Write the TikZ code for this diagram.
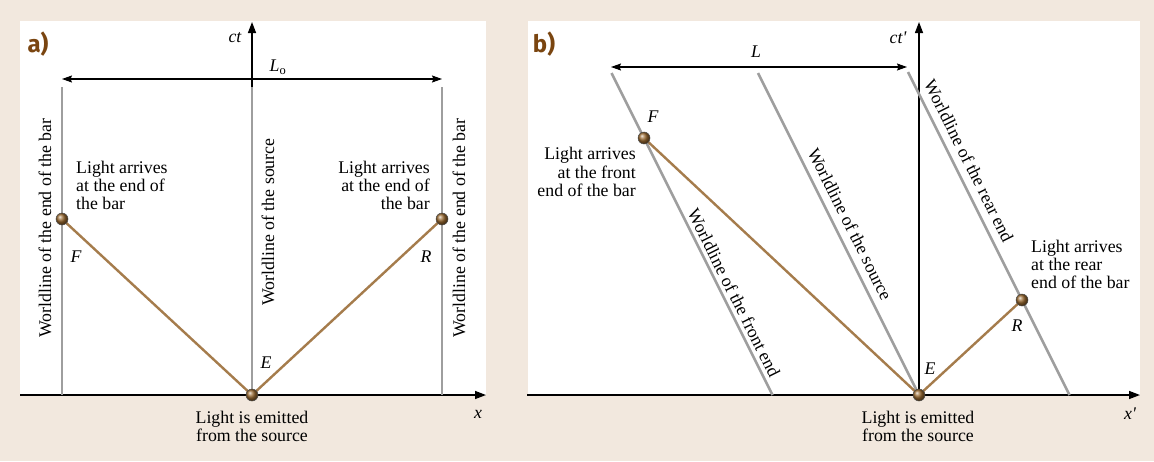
\documentclass[tikz,border=0pt]{standalone}
\usepackage{fontspec}
\setmainfont{Liberation Serif}
\newfontfamily\tagfont{Fira Sans}
\usetikzlibrary{arrows.meta}
\definecolor{bgbeige}{HTML}{F2E8DE}
\definecolor{wlcol}{HTML}{9E9E9E}
\definecolor{raycol}{HTML}{A57C4C}
\definecolor{balcol}{HTML}{9A6A30}
\definecolor{tagcol}{HTML}{7A4510}
\begin{document}
\begin{tikzpicture}[x=1pt,y=-1pt,
  font=\fontsize{17.8}{18.4}\selectfont,
  panelbg/.style={fill=white,draw=none},
  axisline/.style={black,line width=1.4pt,-{Triangle[length=11pt,width=8pt]}},
  dimline/.style={black,line width=1.1pt,{Stealth[length=10pt,width=7pt,inset=1.5pt]}-{Stealth[length=10pt,width=7pt,inset=1.5pt]}},
  wl/.style={wlcol,line width=2.6pt},
  lightray/.style={raycol,line width=2.4pt},
  ev/.style={circle,inner sep=0pt,minimum size=12pt,shade,ball color=balcol,draw=black!70,line width=0.5pt},
  lbl/.style={inner sep=0pt,font=\fontsize{17.8}{18.4}\selectfont\itshape},
  txt/.style={inner sep=0pt},
  tagtxt/.style={inner sep=0pt,text=tagcol,font=\tagfont\bfseries\fontsize{24}{24}\selectfont}]
\useasboundingbox (0,0) rectangle (1154,461);
\fill[bgbeige] (0,0) rectangle (1154,461);
% ---------------- panel a ----------------
\fill[panelbg] (20,21) rectangle (486,395);
\coordinate (xa0) at (20,395);
\coordinate (xa1) at (486,395);
\coordinate (Ea) at (252,395);
\coordinate (cta1) at (252,22);
\coordinate (Fa) at (62,219);
\coordinate (Ra) at (442,219);
\coordinate (wlLt) at (62,87);
\coordinate (wlLb) at (62,395);
\coordinate (wlSt) at (252,87);
\coordinate (wlRt) at (442,87);
\coordinate (wlRb) at (442,395);
\coordinate (dimaL) at (62,79);
\coordinate (dimaR) at (442,79);
\draw[axisline] (xa0) -- (xa1);
\draw[axisline] (Ea) -- (cta1);
\draw[wl] (wlLt) -- (wlLb);
\draw[wl] (wlSt) -- (Ea);
\draw[wl] (wlRt) -- (wlRb);
\draw[dimline] (dimaL) -- (dimaR);
\draw[lightray] (Ea) -- (Fa);
\draw[lightray] (Ea) -- (Ra);
\node[ev] (evFa) at (Fa) {};
\node[ev] (evRa) at (Ra) {};
\node[ev] (evEa) at (Ea) {};
\node[tagtxt] (taga) at (38,44) {a)};
\node[lbl] (cta) at (235,38) {ct};
\node[lbl] (Lo) at (278,67) {L\textsubscript{\upshape o}};
\node[lbl] (xa) at (478,414) {x};
\node[lbl] (Fla) at (76,257) {F};
\node[lbl] (Rla) at (426,257) {R};
\node[lbl] (Ela) at (266,363) {E};
\node[txt,align=left,anchor=base west] (arrLa) at (76,209.8) {Light arrives\\at the end of\\the bar};
\node[txt,align=right,anchor=base east] (arrRa) at (430,209.8) {Light arrives\\at the end of\\the bar};
\node[txt,align=center,anchor=base] (emA) at (252,441.5) {Light is emitted\\from the source};
\node[txt,rotate=90] (wtLa) at (45,228) {Worldline of the end of the bar};
\node[txt,rotate=90] (wtSa) at (268,222) {Worldline of the source};
\node[txt,rotate=90] (wtRa) at (459,228) {Worldline of the end of the bar};
% ---------------- panel b ----------------
\fill[panelbg] (528,21) rectangle (1140,395);
\coordinate (xb0) at (527,395);
\coordinate (xb1) at (1140,395);
\coordinate (Eb) at (919,395);
\coordinate (ctb1) at (919,22);
\coordinate (wfT) at (611.5,73);
\coordinate (wfB) at (772.5,395);
\coordinate (wsT) at (758,73);
\coordinate (wrT) at (908,72);
\coordinate (wrB) at (1069.5,395);
\coordinate (Fb) at (644,138);
\coordinate (Rb) at (1022,300);
\coordinate (dimbL) at (611,67);
\coordinate (dimbR) at (907,67);
\draw[axisline] (xb0) -- (xb1);
\draw[axisline] (Eb) -- (ctb1);
\draw[wl] (wfT) -- (wfB);
\draw[wl] (wsT) -- (Eb);
\draw[wl] (wrT) -- (wrB);
\draw[dimline] (dimbL) -- (dimbR);
\draw[lightray] (Eb) -- (Fb);
\draw[lightray] (Eb) -- (Rb);
\node[ev] (evFb) at (Fb) {};
\node[ev] (evRb) at (Rb) {};
\node[ev] (evEb) at (Eb) {};
\node[tagtxt] (tagb) at (544,44) {b)};
\node[lbl] (ctb) at (898,38) {ct\textquotesingle};
\node[lbl] (Lb) at (756,52) {L};
\node[lbl] (xb) at (1130,414) {x\textquotesingle};
\node[lbl] (Flb) at (653,117) {F};
\node[lbl] (Rlb) at (1017,326) {R};
\node[lbl] (Elb) at (930,369) {E};
\node[txt,align=right,anchor=base east] (arrFb) at (636,196.5) {Light arrives\\at the front\\end of the bar};
\node[txt,align=left,anchor=base west] (arrRb) at (1031,288.8) {Light arrives\\at the rear\\end of the bar};
\node[txt,align=center,anchor=base] (emB) at (918,441.5) {Light is emitted\\from the source};
\node[txt,rotate=-63.43] (wtFb) at (734,293) {Worldline of the front end};
\node[txt,rotate=-63.43] (wtSb) at (850,224) {Worldline of the source};
\node[txt,rotate=-63.43] (wtRb) at (969,161) {Worldline of the rear end};
\end{tikzpicture}
\end{document}
